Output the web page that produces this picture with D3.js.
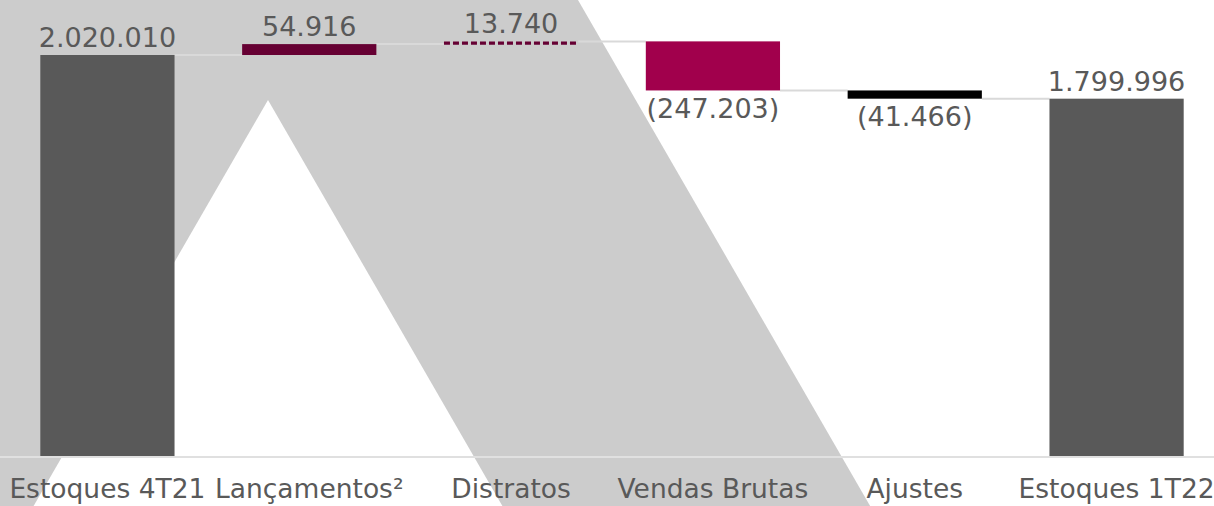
<!DOCTYPE html>
<html>
<head>
<meta charset="utf-8">
<script src="https://cdn.jsdelivr.net/npm/d3@7"></script>
<style>
  html, body { margin: 0; padding: 0; background: #fff; }
  svg { display: block; font-family: "DejaVu Sans", sans-serif; }
</style>
</head>
<body>
<svg id="chart" width="1214" height="506"></svg>
<script>
"use strict";

// waterfall data
const categories = ["Estoques 4T21", "Lançamentos²", "Distratos", "Vendas Brutas", "Ajustes", "Estoques 1T22"];
const values = [2020010, 54916, 13740, -247203, -41466, 1799996];
const kinds = ["total", "delta", "delta", "delta", "delta", "total"];
const valueLabels = ["2.020.010", "54.916", "13.740", "(247.203)", "(41.466)", "1.799.996"];
const barColors = ["#595959", "#660033", "#660033", "#a1004c", "#000000", "#595959"];

const width = 1214, height = 506;
const baseY = 456;

const svg = d3.select("#chart");

// background shape (grey "A" with white inner triangle)
const k = Math.tan(Math.PI / 6);
svg.append("polygon")
    .attr("points", [[0, 0], [578, 0], [578 + height * k, height], [0, height]].join(" "))
    .attr("fill", "#cccccc");
svg.append("polygon")
    .attr("points", [[268, 100], [268 + (height - 100) * k, height], [268 - (height - 100) * k, height]].join(" "))
    .attr("fill", "#ffffff");

const x = d3.scaleBand()
    .domain(categories)
    .range([6, 1218])
    .paddingInner(0.335)
    .paddingOuter(0.17);

const y = d3.scaleLinear()
    .domain([0, 2297100])
    .range([baseY, 0]);

// running totals
let run = 0;
const bars = categories.map(function(c, i) {
    let start, end;
    if (kinds[i] === "total") {
        start = 0;
        end = values[i];
        run = values[i];
    } else {
        start = run;
        end = run + values[i];
        run = end;
    }
    return {cat: c, start: start, end: end, value: values[i], label: valueLabels[i], color: barColors[i], i: i};
});

// connector lines
const conn = svg.append("g").attr("stroke", "#d9d9d9").attr("stroke-width", 2);
bars.slice(0, -1).forEach(function(d, i) {
    const next = bars[i + 1];
    conn.append("line")
        .attr("x1", x(d.cat) + x.bandwidth())
        .attr("x2", x(next.cat))
        .attr("y1", y(d.end))
        .attr("y2", y(d.end));
});

// baseline
svg.append("line")
    .attr("x1", 0).attr("x2", width)
    .attr("y1", baseY + 1).attr("y2", baseY + 1)
    .attr("stroke", "#e0e0e0").attr("stroke-width", 2);

// bars
bars.forEach(function(d) {
    const top = y(Math.max(d.start, d.end));
    const h = Math.abs(y(d.start) - y(d.end));
    if (d.cat === "Distratos") {
        // dashed outline
        const g = svg.append("g").attr("stroke", d.color).attr("stroke-width", 1.6)
            .attr("stroke-dasharray", "6,3");
        g.append("line").attr("x1", x(d.cat)).attr("x2", x(d.cat) + x.bandwidth())
            .attr("y1", top + 0.8).attr("y2", top + 0.8);
        g.append("line").attr("x1", x(d.cat)).attr("x2", x(d.cat) + x.bandwidth())
            .attr("y1", top + h - 0.2).attr("y2", top + h - 0.2);
        return;
    }
    svg.append("rect")
        .attr("x", x(d.cat))
        .attr("y", top)
        .attr("width", x.bandwidth())
        .attr("height", h)
        .attr("fill", d.color);
});

// value labels
svg.append("g").selectAll("text")
    .data(bars)
    .enter()
    .append("text")
    .attr("x", d => x(d.cat) + x.bandwidth() / 2)
    .attr("y", d => d.value < 0 ? y(d.end) + 27.5 : y(Math.max(d.start, d.end)) - 8)
    .attr("text-anchor", "middle")
    .attr("font-size", 27)
    .attr("fill", "#595959")
    .text(d => d.label);

// category labels
svg.append("g").selectAll("text")
    .data(categories)
    .enter()
    .append("text")
    .attr("x", d => x(d) + x.bandwidth() / 2)
    .attr("y", 498)
    .attr("text-anchor", "middle")
    .attr("font-size", 26.5)
    .attr("fill", "#595959")
    .text(d => d);
</script>
</body>
</html>
